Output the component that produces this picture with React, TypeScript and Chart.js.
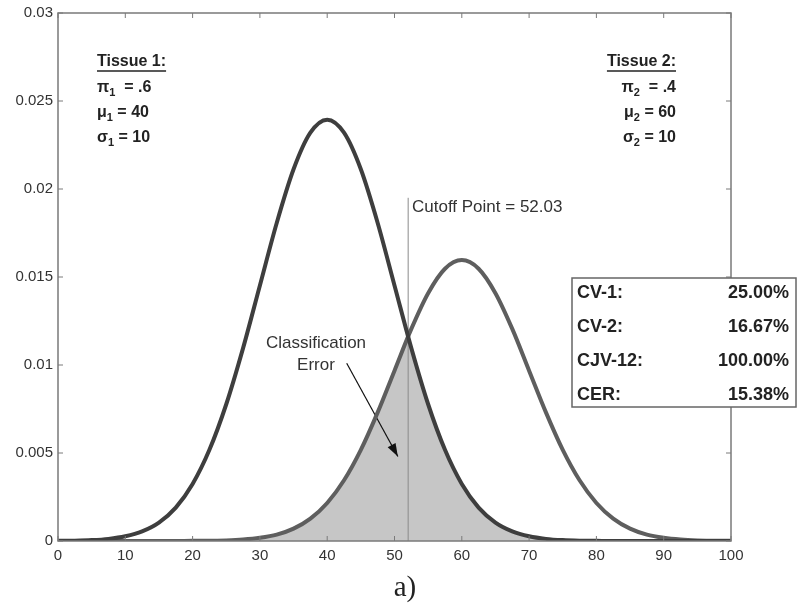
import React, { useEffect, useRef } from "react";
import { Chart, registerables } from "chart.js";

Chart.register(...registerables);

// ---- data ----
const xValues = [
  0, 2.5, 5, 7.5, 10, 12.5, 15, 17.5, 20, 22.5, 25, 27.5, 30, 32.5, 35, 37.5, 40,
  42.5, 45, 47.5, 50, 52.5, 55, 57.5, 60, 62.5, 65, 67.5, 70, 72.5, 75, 77.5, 80,
  82.5, 85, 87.5, 90, 92.5, 95, 97.5, 100,
];
const tissue1 = [
  0.00001, 0.00002, 0.00005, 0.00012, 0.00027, 0.00055, 0.00105, 0.0019, 0.00324,
  0.00518, 0.00777, 0.01096, 0.01452, 0.01807, 0.02112, 0.0232, 0.02394, 0.0232,
  0.02112, 0.01807, 0.01452, 0.01096, 0.00777, 0.00518, 0.00324, 0.0019, 0.00105,
  0.00055, 0.00027, 0.00012, 0.00005, 0.00002, 0.00001, 0, 0, 0, 0, 0, 0, 0, 0,
];
const tissue2 = [
  0, 0, 0, 0, 0, 0, 0, 0, 0.00001, 0.00001, 0.00003, 0.00008, 0.00018, 0.00036,
  0.0007, 0.00127, 0.00216, 0.00345, 0.00518, 0.00731, 0.00968, 0.01205, 0.01408,
  0.01547, 0.01596, 0.01547, 0.01408, 0.01205, 0.00968, 0.00731, 0.00518, 0.00345,
  0.00216, 0.00127, 0.0007, 0.00036, 0.00018, 0.00008, 0.00003, 0.00001, 0.00001,
];
const cutoffX = 52.03;
const crossY = 0.0116;
const cutoffTop = 0.0195;
const arrowFrom = { x: 42.9, y: 0.0101 };
const arrowTo = { x: 50.5, y: 0.0048 };

const xTickLabels = ["0", "10", "20", "30", "40", "50", "60", "70", "80", "90", "100"];
const yTickLabels = ["0", "0.005", "0.01", "0.015", "0.02", "0.025", "0.03"];

const statLabels = ["CV-1:", "CV-2:", "CJV-12:", "CER:"];
const statValues = ["25.00%", "16.67%", "100.00%", "15.38%"];

const SANS = "'Liberation Sans', Arial, sans-serif";

export default function App() {
  const ref = useRef<HTMLCanvasElement | null>(null);

  useEffect(() => {
    const canvas = ref.current;
    if (!canvas) return;

    const line1 = xValues.map((x, i) => ({ x, y: tissue1[i] }));
    const line2 = xValues.map((x, i) => ({ x, y: tissue2[i] }));
    const fillPts: { x: number; y: number }[] = [];
    xValues.forEach((x, i) => {
      if (x > cutoffX && (fillPts.length === 0 || fillPts[fillPts.length - 1].x < cutoffX)) {
        fillPts.push({ x: cutoffX, y: crossY });
      }
      fillPts.push({ x, y: x < cutoffX ? tissue2[i] : tissue1[i] });
    });

    const drawParts = (
      ctx: CanvasRenderingContext2D,
      parts: [string, boolean][],
      x: number,
      y: number,
      alignRight: boolean
    ) => {
      const big = `bold 16px ${SANS}`;
      const small = `bold 11px ${SANS}`;
      let total = 0;
      parts.forEach(([t, sub]) => {
        ctx.font = sub ? small : big;
        total += ctx.measureText(t).width;
      });
      let cx = alignRight ? x - total : x;
      ctx.textAlign = "left";
      ctx.textBaseline = "middle";
      parts.forEach(([t, sub]) => {
        ctx.font = sub ? small : big;
        ctx.fillText(t, cx, sub ? y + 5 : y);
        cx += ctx.measureText(t).width;
      });
    };

    const decor = {
      id: "decor",
      afterDraw(chart: any) {
        const ctx: CanvasRenderingContext2D = chart.ctx;
        const area = chart.chartArea;
        const xs = chart.scales.x;
        const ys = chart.scales.y;
        ctx.save();
        // frame
        ctx.strokeStyle = "#7a7a7a";
        ctx.lineWidth = 1.5;
        ctx.strokeRect(area.left, area.top, area.right - area.left, area.bottom - area.top);
        // inward ticks
        const tl = 5;
        ctx.beginPath();
        xs.ticks.forEach((t: any) => {
          const px = xs.getPixelForValue(t.value);
          ctx.moveTo(px, area.bottom);
          ctx.lineTo(px, area.bottom - tl);
          ctx.moveTo(px, area.top);
          ctx.lineTo(px, area.top + tl);
        });
        ys.ticks.forEach((t: any) => {
          const py = ys.getPixelForValue(t.value);
          ctx.moveTo(area.left, py);
          ctx.lineTo(area.left + tl, py);
          ctx.moveTo(area.right, py);
          ctx.lineTo(area.right - tl, py);
        });
        ctx.lineWidth = 1;
        ctx.stroke();

        // arrow head
        const am = chart.getDatasetMeta(2);
        if (am && am.data.length === 2) {
          const p0 = am.data[0];
          const p1 = am.data[1];
          const ang = Math.atan2(p1.y - p0.y, p1.x - p0.x);
          const L = 13;
          const W = 4.5;
          ctx.fillStyle = "#111";
          ctx.beginPath();
          ctx.moveTo(p1.x, p1.y);
          ctx.lineTo(
            p1.x - L * Math.cos(ang) + W * Math.sin(ang),
            p1.y - L * Math.sin(ang) - W * Math.cos(ang)
          );
          ctx.lineTo(
            p1.x - L * Math.cos(ang) - W * Math.sin(ang),
            p1.y - L * Math.sin(ang) + W * Math.cos(ang)
          );
          ctx.closePath();
          ctx.fill();
        }

        // text annotations
        ctx.fillStyle = "#333";
        ctx.font = `17px ${SANS}`;
        ctx.textAlign = "left";
        ctx.textBaseline = "middle";
        ctx.fillText("Cutoff Point = 52.03", 412, 207);
        ctx.textAlign = "center";
        ctx.fillText("Classification", 316, 343);
        ctx.fillText("Error", 316, 365);

        // Tissue blocks
        ctx.fillStyle = "#222";
        ctx.strokeStyle = "#222";
        ctx.font = `bold 16px ${SANS}`;
        ctx.textAlign = "left";
        const t1 = "Tissue 1:";
        const w1 = ctx.measureText(t1).width;
        ctx.fillText(t1, 97, 62);
        ctx.beginPath();
        ctx.moveTo(97, 71);
        ctx.lineTo(97 + w1, 71);
        ctx.lineWidth = 1.5;
        ctx.stroke();
        drawParts(ctx, [["π", false], ["1", true], ["  = .6", false]], 97, 88, false);
        drawParts(ctx, [["μ", false], ["1", true], [" = 40", false]], 97, 113, false);
        drawParts(ctx, [["σ", false], ["1", true], [" = 10", false]], 97, 138, false);

        ctx.font = `bold 16px ${SANS}`;
        ctx.textAlign = "right";
        const t2 = "Tissue 2:";
        const w2 = ctx.measureText(t2).width;
        ctx.fillText(t2, 676, 62);
        ctx.beginPath();
        ctx.moveTo(676 - w2, 71);
        ctx.lineTo(676, 71);
        ctx.stroke();
        drawParts(ctx, [["π", false], ["2", true], ["  = .4", false]], 676, 88, true);
        drawParts(ctx, [["μ", false], ["2", true], [" = 60", false]], 676, 113, true);
        drawParts(ctx, [["σ", false], ["2", true], [" = 10", false]], 676, 138, true);

        // stats box
        ctx.fillStyle = "#fff";
        ctx.fillRect(572, 278, 224, 129);
        ctx.strokeStyle = "#666";
        ctx.lineWidth = 1.5;
        ctx.strokeRect(572, 278, 224, 129);
        ctx.fillStyle = "#222";
        ctx.font = `bold 18px ${SANS}`;
        const rowsY = [293, 327, 361, 395];
        statLabels.forEach((lab, i) => {
          ctx.textAlign = "left";
          ctx.fillText(lab, 577, rowsY[i]);
          ctx.textAlign = "right";
          ctx.fillText(statValues[i], 789, rowsY[i]);
        });

        // caption
        ctx.fillStyle = "#222";
        ctx.font = `29px 'Liberation Serif', 'Times New Roman', serif`;
        ctx.textAlign = "center";
        ctx.fillText("a)", 405, 588);
        ctx.restore();
      },
    };

    const chart = new Chart(canvas, {
      type: "line",
      data: {
        datasets: [
          {
            data: line1,
            borderColor: "#3e3e3e",
            borderWidth: 4,
            pointRadius: 0,
            cubicInterpolationMode: "monotone",
            fill: false,
            order: 0,
          },
          {
            data: line2,
            borderColor: "#5e5e5e",
            borderWidth: 4,
            pointRadius: 0,
            cubicInterpolationMode: "monotone",
            fill: false,
            order: 1,
          },
          {
            data: [arrowFrom, arrowTo],
            borderColor: "#111",
            borderWidth: 1.2,
            pointRadius: 0,
            fill: false,
            order: 2,
          },
          {
            data: [
              { x: cutoffX, y: 0 },
              { x: cutoffX, y: cutoffTop },
            ],
            borderColor: "#8a8a8a",
            borderWidth: 1,
            pointRadius: 0,
            fill: false,
            order: 3,
          },
          {
            data: fillPts,
            borderWidth: 0,
            borderColor: "rgba(0,0,0,0)",
            backgroundColor: "#c6c6c6",
            pointRadius: 0,
            fill: "origin",
            order: 4,
          },
        ] as any,
      },
      options: {
        animation: false,
        responsive: false,
        maintainAspectRatio: false,
        layout: { padding: { left: 0, top: 13, right: 67, bottom: 37 } },
        plugins: { legend: { display: false }, tooltip: { enabled: false } },
        scales: {
          x: {
            type: "linear",
            min: 0,
            max: 100,
            grid: { display: false, drawTicks: false, tickLength: 0 },
            border: { display: false },
            ticks: {
              stepSize: 10,
              maxRotation: 0,
              padding: 6,
              color: "#333",
              font: { family: SANS, size: 15 },
              callback: (_v: any, i: number) => xTickLabels[i],
            },
            afterFit: (s: any) => {
              s.height = 30;
              s.paddingLeft = 0;
              s.paddingRight = 0;
            },
          },
          y: {
            type: "linear",
            min: 0,
            max: 0.03,
            grid: { display: false, drawTicks: false, tickLength: 0 },
            border: { display: false },
            ticks: {
              stepSize: 0.005,
              padding: 5,
              color: "#333",
              font: { family: SANS, size: 15 },
              callback: (_v: any, i: number) => yTickLabels[i],
            },
            afterFit: (s: any) => {
              s.width = 58;
              s.paddingTop = 0;
              s.paddingBottom = 0;
            },
          },
        },
      } as any,
      plugins: [decor],
    });
    return () => chart.destroy();
  }, []);

  return (
    <div style={{ position: "fixed", left: 0, top: 0, width: 798, height: 608, background: "#fff" }}>
      <canvas ref={ref} width={798} height={608} style={{ display: "block" }} />
    </div>
  );
}
